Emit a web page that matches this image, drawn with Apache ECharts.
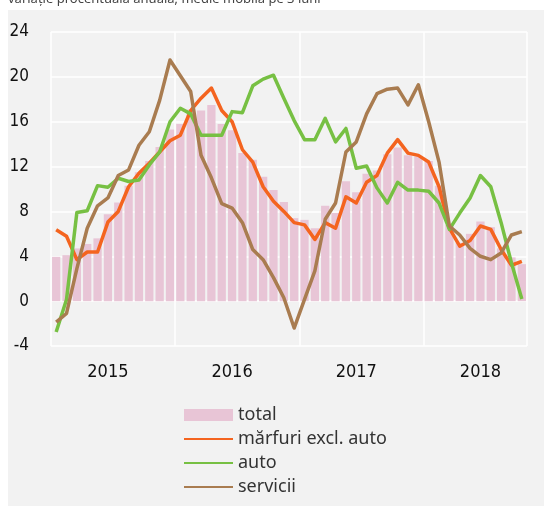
<!DOCTYPE html>
<html>
<head>
<meta charset="utf-8">
<script src="https://cdn.jsdelivr.net/npm/echarts@6/dist/echarts.min.js"></script>
<style>
  html, body { margin: 0; padding: 0; background: #fff; }
  #chart { width: 544px; height: 509px; }
</style>
</head>
<body>
<div id="chart"></div>
<script>
// luni: ian 2015 - oct 2018
var years = ['2015', '2016', '2017', '2018']
var months = []
for (var y = 0; y < years.length; y++) {
  for (var m = 1; m <= 12; m++) {
    if (years[y] === '2018' && m > 10) break
    months.push(years[y] + '-' + (m < 10 ? '0' + m : m))
  }
}

var total = [3.95, 4.1, 4.7, 5.1, 5.6, 7.75, 8.8, 10.3, 11.5, 12.5, 13.75, 15.3,
  15.8, 17.1, 17.0, 17.5, 15.8, 15.25, 13.2, 12.6, 11.1, 9.9, 8.85, 7.4,
  7.25, 6.5, 8.5, 7.85, 10.7, 9.7, 11.35, 11.65, 13.1, 13.7, 13.0, 12.9,
  12.5, 10.3, 6.8, 5.2, 6.0, 7.1, 6.6, 4.7, 3.9, 3.3]

var marfuri = [6.37, 5.78, 3.7, 4.38, 4.38, 7.05, 8.0, 10.2, 11.4, 12.3, 13.3, 14.3,
  14.8, 17.0, 18.1, 19.0, 17.0, 16.0, 13.5, 12.4, 10.2, 8.9, 8.0, 7.0,
  6.8, 5.5, 7.0, 6.5, 9.3, 8.75, 10.6, 11.2, 13.2, 14.4, 13.2, 13.0,
  12.4, 10.2, 6.5, 4.9, 5.4, 6.7, 6.4, 4.6, 3.2, 3.55]

var auto = [-2.75, 0.15, 7.9, 8.06, 10.3, 10.16, 10.96, 10.67, 10.8, 12.15, 13.3, 16.0,
  17.2, 16.7, 14.8, 14.8, 14.8, 16.9, 16.8, 19.2, 19.8, 20.15, 18.1, 16.1,
  14.4, 14.4, 16.3, 14.2, 15.4, 11.85, 12.05, 10.1, 8.75, 10.6, 9.9, 9.9,
  9.8, 8.75, 6.4, 7.85, 9.2, 11.2, 10.2, 7.0, 3.4, 0.2]

var servicii = [-1.87, -1.1, 2.9, 6.5, 8.5, 9.2, 11.2, 11.7, 13.9, 15.1, 17.9, 21.5,
  20.1, 18.7, 13.0, 11.0, 8.7, 8.3, 7.0, 4.6, 3.7, 2.1, 0.3, -2.4,
  0.15, 2.7, 7.3, 8.75, 13.3, 14.2, 16.7, 18.5, 18.9, 19.0, 17.5, 19.3,
  16.0, 12.4, 6.7, 5.9, 4.7, 4.0, 3.7, 4.3, 5.9, 6.2]

var numFont = '"Liberation Sans Narrow", "DejaVu Sans Condensed", sans-serif'
var textFont = '"Noto Sans", "Open Sans", sans-serif'

var option = {
  animation: false,
  backgroundColor: '#ffffff',
  graphic: [
    {
      type: 'rect',
      z: -10,
      shape: { x: 8, y: 10, width: 536, height: 496 },
      style: { fill: '#f2f2f2' }
    },
    {
      type: 'text',
      x: 8,
      y: -1,
      style: {
        text: 'variație procentuală anuală; medie mobilă pe 3 luni',
        font: '13px "Noto Sans", sans-serif',
        fill: '#444',
        verticalAlign: 'middle'
      }
    }
  ],
  grid: { left: 51, right: 17, top: 32, bottom: 163 },
  legend: {
    orient: 'vertical',
    left: 183,
    top: 406,
    padding: 0,
    itemWidth: 49,
    itemHeight: 12,
    itemGap: 6,
    selectedMode: false,
    textStyle: { fontFamily: textFont, fontSize: 18, color: '#333', lineHeight: 18 },
    data: [
      { name: 'total', icon: 'rect' },
      // fara cerc in legenda, doar linia
      { name: 'mărfuri excl. auto', itemStyle: { opacity: 0 } },
      { name: 'auto', itemStyle: { opacity: 0 } },
      { name: 'servicii', itemStyle: { opacity: 0 } }
    ]
  },
  xAxis: {
    type: 'category',
    data: months,
    boundaryGap: true,
    axisLine: { show: false },
    axisTick: { show: false },
    axisLabel: {
      interval: function (i, v) { return v.slice(5) === '06' },
      formatter: function (v) { return v.slice(0, 4) },
      fontFamily: numFont,
      fontSize: 18,
      color: '#111',
      margin: 17
    },
    splitLine: {
      show: true,
      interval: function (i) { return i % 12 === 0 && i < months.length },
      lineStyle: { color: '#ffffff', width: 1.5 }
    }
  },
  yAxis: {
    type: 'value',
    min: -4,
    max: 24,
    interval: 4,
    axisLine: { show: false },
    axisTick: { show: false },
    axisLabel: { fontFamily: numFont, fontSize: 17, color: '#111', margin: 22 },
    splitLine: { lineStyle: { color: '#ffffff', width: 1.5 } }
  },
  series: [
    {
      name: 'total',
      type: 'bar',
      data: total,
      barCategoryGap: '20%',
      itemStyle: { color: '#e8c5d6' }
    },
    {
      name: 'mărfuri excl. auto',
      type: 'line',
      data: marfuri,
      symbol: 'none',
      itemStyle: { color: '#f4641f' },
      lineStyle: { color: '#f4641f', width: 3.5, join: 'round' }
    },
    {
      name: 'auto',
      type: 'line',
      data: auto,
      symbol: 'none',
      itemStyle: { color: '#77c043' },
      lineStyle: { color: '#77c043', width: 3.5, join: 'round' }
    },
    {
      name: 'servicii',
      type: 'line',
      data: servicii,
      symbol: 'none',
      itemStyle: { color: '#a97c50' },
      lineStyle: { color: '#a97c50', width: 3.5, join: 'round' }
    }
  ]
}

var chart = echarts.init(document.getElementById('chart'))
chart.setOption(option, true)
</script>
</body>
</html>
